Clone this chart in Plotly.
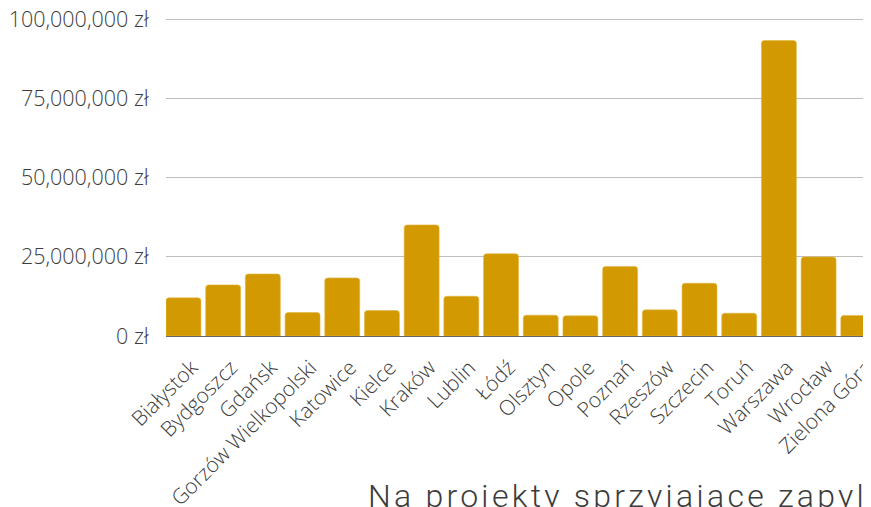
import plotly.graph_objects as go

cities = ["Białystok", "Bydgoszcz", "Gdańsk", "Gorzów Wielkopolski", "Katowice", "Kielce",
          "Kraków", "Lublin", "Łódź", "Olsztyn", "Opole", "Poznań", "Rzeszów", "Szczecin",
          "Toruń", "Warszawa", "Wrocław", "Zielona Góra"]
amounts = [12.05e6, 16.15e6, 19.6e6, 7.4e6, 18.35e6, 8.04e6, 35.1e6, 12.56e6, 26.0e6,
           6.57e6, 6.37e6, 22.0e6, 8.26e6, 16.67e6, 7.2e6, 93.4e6, 25.0e6, 6.47e6]
y_ticks = [0, 25e6, 50e6, 75e6, 100e6]
y_tick_labels = ["0 zł", "25,000,000 zł", "50,000,000 zł", "75,000,000 zł", "100,000,000 zł"]
title_text = "Na projekty sprzyjające zapylaczom"

fig = go.Figure(go.Bar(
    x=cities, y=amounts,
    marker=dict(color="#D29A00", cornerradius=3, line=dict(color="#E2B640", width=0.6)),
))

fig.update_layout(
    width=863, height=499,
    margin=dict(l=158, r=0, t=10, b=171, autoexpand=False),
    paper_bgcolor="white", plot_bgcolor="white",
    bargap=0.12,
    showlegend=False,
    font=dict(family="Open Sans", color="#3c3c3c"),
    annotations=[dict(
        text='<span style="letter-spacing:3.25px">' + title_text + '</span>',
        xref="paper", yref="paper", x=0.2837, y=-0.4386,
        xanchor="left", yanchor="top", showarrow=False,
        font=dict(family="Roboto", size=32, color="#3c3c3c", weight=300),
    )],
)
fig.update_xaxes(
    range=[-0.44, 17.32], tickangle=-45,
    tickfont=dict(family="Open Sans", size=21, color="#3c3c3c", weight=300),
    ticklabelshift=8, ticklabelstandoff=10,
    showline=True, linecolor="#666666", linewidth=1,
    showgrid=False, ticks="",
)
fig.update_yaxes(
    range=[0, 100.5e6], tickvals=y_ticks, ticktext=y_tick_labels,
    tickfont=dict(family="Open Sans", size=21.5, color="#3c3c3c", weight=300),
    ticklabeloverflow="allow",
    showgrid=True, gridcolor="#BDBDBD", gridwidth=1.2, zeroline=False,
    ticks="outside", ticklen=12, tickcolor="rgba(0,0,0,0)",
)

fig.write_html("out.html")
